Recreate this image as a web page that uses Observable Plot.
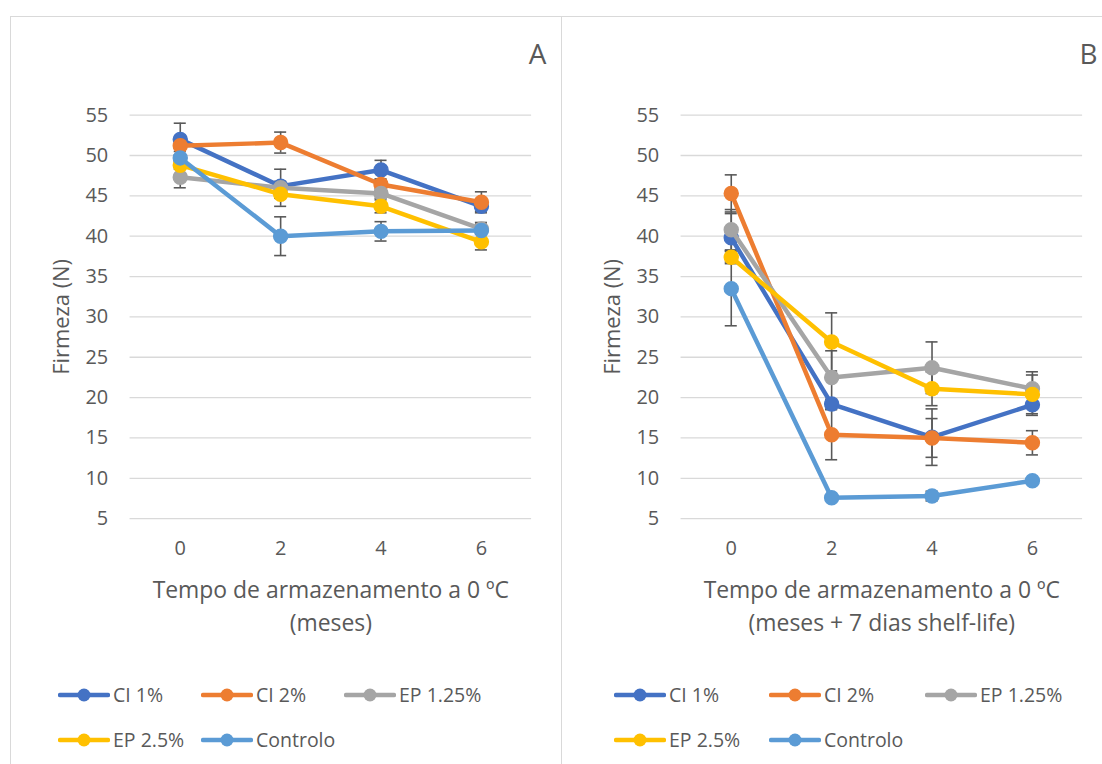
<!DOCTYPE html>
<html>
<head>
<meta charset="utf-8">
<script src="https://cdn.jsdelivr.net/npm/d3@7"></script>
<script src="https://cdn.jsdelivr.net/npm/@observablehq/plot@0.6"></script>
<style>
  body { margin: 0; background: #fff; width: 1102px; height: 764px; overflow: hidden; position: relative;
         font-family: "Open Sans", sans-serif; color: #595959; }
  .painel { position: absolute; top: 16px; width: 552px; height: 800px; border: 1px solid #d9d9d9;
            box-sizing: border-box; background: #fff; overflow: hidden; }
  .painel svg { position: absolute; left: -1px; top: -1px; }
  .item { position: absolute; display: flex; align-items: center; font-size: 19.5px; white-space: nowrap; line-height: 1; }
  .item svg { position: static; margin-right: 3px; }
</style>
</head>
<body>
<div id="painelA" class="painel" style="left:10px"></div>
<div id="painelB" class="painel" style="left:561px"></div>
<script>
// Storage time (months) and the five coating treatments
const meses = [0, 2, 4, 6];
const series = ["CI 1%", "CI 2%", "EP 1.25%", "EP 2.5%", "Controlo"];
const cores = ["#4472C4", "#ED7D31", "#A5A5A5", "#FFC000", "#5B9BD5"];
const ticksY = [5, 10, 15, 20, 25, 30, 35, 40, 45, 50, 55];

// A: firmness (N) at removal from cold storage, with error bars
const firmezaA_CI1 = [52.0, 46.2, 48.2, 43.7];
const firmezaA_CI2 = [51.2, 51.6, 46.4, 44.2];
const firmezaA_EP125 = [47.3, 46.0, 45.3, 40.9];
const firmezaA_EP25 = [48.8, 45.2, 43.7, 39.3];
const firmezaA_Controlo = [49.7, 40.0, 40.6, 40.7];
const erroA_CI1 = [2.0, 0.6, 1.2, 0.6];
const erroA_CI2 = [0.7, 1.3, 0.7, 1.3];
const erroA_EP125 = [1.3, 2.3, 0.6, 0.6];
const erroA_EP25 = [0.5, 0.5, 0.8, 1.0];
const erroA_Controlo = [0.4, 2.4, 1.2, 1.0];

// B: firmness (N) after 7 days of shelf-life
const firmezaB_CI1 = [39.8, 19.2, 15.1, 19.1];
const firmezaB_CI2 = [45.3, 15.4, 15.0, 14.4];
const firmezaB_EP125 = [40.8, 22.5, 23.7, 21.1];
const firmezaB_EP25 = [37.4, 26.9, 21.1, 20.4];
const firmezaB_Controlo = [33.5, 7.6, 7.8, 9.7];
const erroB_CI1 = [3.0, 0.6, 3.5, 1.3];
const erroB_CI2 = [2.3, 3.1, 2.4, 1.5];
const erroB_EP125 = [2.5, 3.3, 3.2, 2.1];
const erroB_EP25 = [0.8, 3.6, 2.1, 2.4];
const erroB_Controlo = [4.6, 0.3, 0.6, 0.3];

const tituloXA = "Tempo de armazenamento a 0 ºC\n(meses)";
const tituloXB = "Tempo de armazenamento a 0 ºC\n(meses + 7 dias shelf-life)";
const tituloY = "Firmeza (N)";

const fonte = "Open Sans, sans-serif";
const cinzaTexto = "#595959";

function linhas(valores, erros) {
  const out = [];
  series.forEach((s, i) => {
    meses.forEach((m, j) => {
      out.push({ serie: s, ordem: i, t: m, v: valores[i][j], e: erros[i][j] });
    });
  });
  return out;
}

function desenhar(id, letra, tituloX, valores, erros, posLegenda) {
  const dados = linhas(valores, erros);
  const meiaBarra = 0.12; // half-width of an error-bar cap, in x units

  const marcas = [
    Plot.ruleY(ticksY, { stroke: "#d9d9d9", strokeWidth: 1.3 }),
    Plot.axisX(meses, { tickSize: 0, tickPadding: 22, label: null, fontSize: 20, fill: cinzaTexto }),
    Plot.axisY(ticksY, { tickSize: 0, tickPadding: 22, label: null, fontSize: 20, fill: cinzaTexto }),
    // error bars
    Plot.ruleX(dados, { x: "t", y1: d => d.v - d.e, y2: d => d.v + d.e, stroke: "#595959", strokeWidth: 1.6 }),
    Plot.ruleY(dados, { y: d => d.v + d.e, x1: d => d.t - meiaBarra, x2: d => d.t + meiaBarra, stroke: "#595959", strokeWidth: 1.6 }),
    Plot.ruleY(dados, { y: d => d.v - d.e, x1: d => d.t - meiaBarra, x2: d => d.t + meiaBarra, stroke: "#595959", strokeWidth: 1.6 })
  ];
  // each series: line, then its markers, drawn in series order
  series.forEach((s, i) => {
    const sub = dados.filter(d => d.serie === s);
    marcas.push(Plot.line(sub, { x: "t", y: "v", stroke: cores[i], strokeWidth: 4.5, strokeLinejoin: "round", strokeLinecap: "round" }));
    marcas.push(Plot.dot(sub, { x: "t", y: "v", r: 7, fill: cores[i], stroke: cores[i] }));
  });
  marcas.push(
    Plot.text([tituloY], { text: d => d, frameAnchor: "left", textAnchor: "middle", lineAnchor: "middle", dx: -68, rotate: -90, fontSize: 22, fill: cinzaTexto }),
    Plot.text([tituloX], { text: d => d, frameAnchor: "bottom", textAnchor: "middle", dy: 56, lineAnchor: "top", lineHeight: 1.45, fontSize: 23, fill: cinzaTexto }),
    Plot.text([letra], { text: d => d, frameAnchor: "top-right", textAnchor: "middle", lineAnchor: "middle", dx: 6, dy: -60, fontSize: 28, fill: cinzaTexto })
  );

  const grafico = Plot.plot({
    width: 552,
    height: 640,
    marginLeft: 120,
    marginRight: 29,
    marginTop: 99,
    marginBottom: 136,
    style: { fontFamily: fonte, color: cinzaTexto, background: "transparent", overflow: "visible" },
    x: { domain: [-1, 7] },
    y: { domain: [5, 55] },
    marks: marcas
  });
  const el = document.getElementById(id);
  el.appendChild(grafico);

  // legend: two rows of line+marker swatches
  series.forEach((s, i) => {
    const p = posLegenda[i];
    const item = document.createElement("div");
    item.className = "item";
    item.style.left = p[0] + "px";
    item.style.top = (p[1] - 9) + "px";
    item.innerHTML =
      `<svg width="52" height="18"><line x1="2" y1="9" x2="50" y2="9" stroke="${cores[i]}" stroke-width="4.5" stroke-linecap="round"/>` +
      `<circle cx="26" cy="9" r="6.5" fill="${cores[i]}"/></svg><span>${s}</span>`;
    el.appendChild(item);
  });
}

desenhar("painelA", "A", tituloXA,
  [firmezaA_CI1, firmezaA_CI2, firmezaA_EP125, firmezaA_EP25, firmezaA_Controlo],
  [erroA_CI1, erroA_CI2, erroA_EP125, erroA_EP25, erroA_Controlo],
  [[47, 677], [190, 677], [333, 677], [47, 722], [190, 722]]);

desenhar("painelB", "B", tituloXB,
  [firmezaB_CI1, firmezaB_CI2, firmezaB_EP125, firmezaB_EP25, firmezaB_Controlo],
  [erroB_CI1, erroB_CI2, erroB_EP125, erroB_EP25, erroB_Controlo],
  [[52, 677], [207, 677], [363, 677], [52, 722], [207, 722]]);
</script>
</body>
</html>
